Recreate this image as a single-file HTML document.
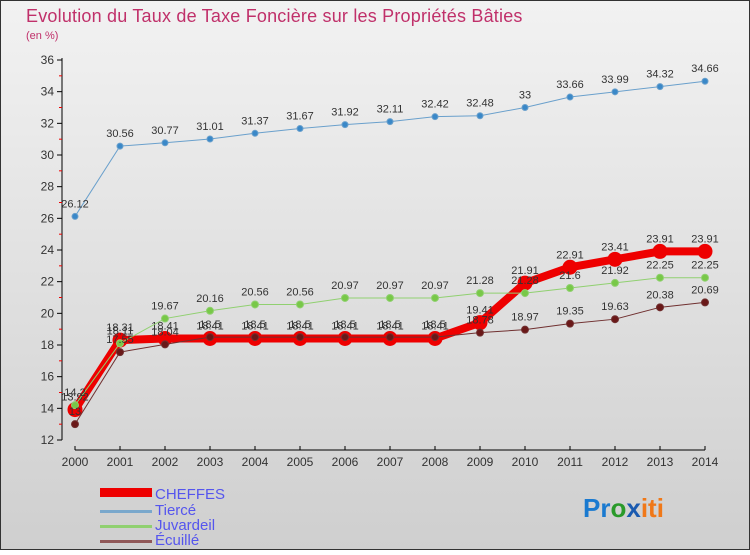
<!DOCTYPE html>
<html><head><meta charset="utf-8"><style>
body{margin:0;width:750px;height:550px;overflow:hidden;font-family:"Liberation Sans",sans-serif}
</style></head><body>
<svg id="c" width="750" height="550" xmlns="http://www.w3.org/2000/svg">
<defs><linearGradient id="bg" x1="0" y1="0" x2="0" y2="1"><stop offset="0" stop-color="#f2f2f2"/><stop offset="1" stop-color="#cfcfcf"/></linearGradient></defs>
<rect x="0.5" y="0.5" width="749" height="549" fill="url(#bg)" stroke="#333"/>
<text x="26" y="22" font-size="18" fill="#c0306a" letter-spacing="0.2">Evolution du Taux de Taxe Foncière sur les Propriétés Bâties</text>
<text x="26" y="39" font-size="11" fill="#c0306a">(en %)</text>
<g id="axes"></g><g id="series"></g>
<g>
<rect x="100" y="488" width="52" height="9" fill="#e00"/>
<text x="155" y="499" font-size="15" fill="#5555ee">CHEFFES</text>
<rect x="100" y="510" width="52" height="3" fill="#7aa8cc"/>
<text x="155" y="515" font-size="15" fill="#5555ee">Tiercé</text>
<rect x="100" y="525" width="52" height="3" fill="#90d070"/>
<text x="155" y="530" font-size="15" fill="#5555ee">Juvardeil</text>
<rect x="100" y="540" width="52" height="3" fill="#905858"/>
<text x="155" y="545" font-size="15" fill="#5555ee">Écuillé</text>
</g>
<g font-size="26" font-weight="bold">
<text x="583" y="517"><tspan fill="#1a7ad0">Pr</tspan><tspan fill="#2a9a2a">o</tspan><tspan fill="#1a5ab0">x</tspan><tspan fill="#f07818">iti</tspan></text>
</g>
</svg>
<script>
const years=[2000,2001,2002,2003,2004,2005,2006,2007,2008,2009,2010,2011,2012,2013,2014];
const yTicks=[12,14,16,18,20,22,24,26,28,30,32,34,36];
const cheffes=[13.92,18.31,18.41,18.41,18.41,18.41,18.41,18.41,18.41,19.41,21.91,22.91,23.41,23.91,23.91];
const tierce=[26.12,30.56,30.77,31.01,31.37,31.67,31.92,32.11,32.42,32.48,33,33.66,33.99,34.32,34.66];
const juvardeil=[14.2,18.11,19.67,20.16,20.56,20.56,20.97,20.97,20.97,21.28,21.28,21.6,21.92,22.25,22.25];
const ecuille=[13,17.55,18.04,18.5,18.5,18.5,18.5,18.5,18.5,18.78,18.97,19.35,19.63,20.38,20.69];
const NS="http://www.w3.org/2000/svg";
const x=i=>75+i*45, y=v=>440-(v-12)*(380/24);
function mk(t,a,p){const e=document.createElementNS(NS,t);for(const k in a)e.setAttribute(k,a[k]);p.appendChild(e);return e;}
const ax=document.getElementById('axes');
let e=mk('line',{x1:62,y1:58,x2:62,y2:440,stroke:'#000'},ax);


e=mk('line',{x1:75,y1:450,x2:705,y2:450,stroke:'#000'},ax);


yTicks.forEach(v=>{mk('line',{x1:57,x2:62,y1:y(v),y2:y(v),stroke:'#000'},ax);
 if(v<36)mk('line',{x1:59,x2:62,y1:y(v+1),y2:y(v+1),stroke:'#e00'},ax);
 const t=mk('text',{x:54,y:y(v)+4,'font-size':12,'text-anchor':'end',fill:'#333'},ax);t.textContent=v;
 
 });
years.forEach((yr,i)=>{mk('line',{x1:x(i),x2:x(i),y1:446,y2:450,stroke:'#000'},ax);
 const t=mk('text',{x:x(i),y:466,'font-size':12,'text-anchor':'middle',fill:'#333'},ax);t.textContent=yr;
 
 });
const sg=document.getElementById('series');
function draw(name,data,col,w,r,fill){
 const g=mk('g',{},sg);
 
 
 const l=mk('polyline',{points:data.map((v,i)=>x(i)+','+y(v)).join(' '),fill:'none',stroke:col,'stroke-width':w},g);
 
 
 data.forEach((v,i)=>{const c=mk('circle',{cx:x(i),cy:y(v),r:r,fill:fill,stroke:col,'stroke-width':1},g);
  
  
  const t=mk('text',{x:x(i),y:y(v)-9,'font-size':11,'text-anchor':'middle',fill:'#333'},g);t.textContent=v;
  
  });
}
draw('tierce',tierce,'#6aa0cc',1,3,'#3a88c8');
draw('cheffes',cheffes,'#e00',8,7,'#e00');
draw('juvardeil',juvardeil,'#90d070',1,3.5,'#78c848');
draw('ecuille',ecuille,'#703030',1,3.5,'#6a1818');
</script>
</body></html>
